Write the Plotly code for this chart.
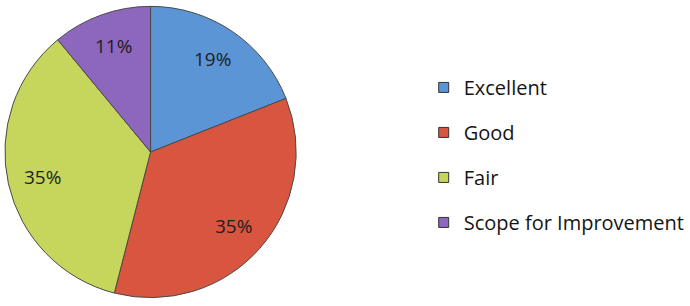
import math
import plotly.graph_objects as go

categories = ["Excellent", "Good", "Fair", "Scope for Improvement"]
values = [19, 35, 35, 11]
colors = ["#5b95d6", "#d8563f", "#c6d55c", "#8d66bd"]

W, H = 690, 306
cx, cy, r = 153, 152, 148  # pie centre / radius in px (layout style)

fig = go.Figure()
fig.add_trace(go.Pie(
    labels=categories, values=values, sort=False, direction="clockwise", rotation=0,
    marker=dict(colors=colors, line=dict(color="#4a4a4a", width=1)),
    textinfo="none", showlegend=False, hoverinfo="label+percent",
    domain=dict(x=[(cx - r) / W, (cx + r) / W], y=[1 - (cy + r) / H, 1 - (cy - r) / H]),
))
for i, (c, col) in enumerate(zip(categories, colors)):
    fig.add_trace(go.Scatter(
        x=[None], y=[None], mode="markers", name=c, legendgroup=str(i),
        marker=dict(symbol="square", size=10, color=col, line=dict(color="#333", width=1)),
    ))

# value labels placed along each slice's mid-angle
total = sum(values)
cum = 0
for v in values:
    mid = (cum + v / 2) / total * 2 * math.pi
    cum += v
    rr = 0.77 * 146
    fig.add_annotation(
        x=(cx + rr * math.sin(mid)) / W, y=1 - (cy - rr * math.cos(mid)) / H,
        xref="paper", yref="paper", xanchor="center", yanchor="middle",
        text=f"{v}%", showarrow=False,
        font=dict(family="Open Sans", size=19, color="#1e1e1e"),
    )

fig.update_layout(
    width=W, height=H, margin=dict(l=0, r=0, t=0, b=0),
    paper_bgcolor="white", plot_bgcolor="white",
    xaxis=dict(visible=False), yaxis=dict(visible=False),
    legend=dict(x=0.624, y=0.778, xanchor="left", yanchor="top",
                font=dict(family="Open Sans", size=20, color="#151515"),
                tracegroupgap=16, itemwidth=30, bgcolor="rgba(0,0,0,0)"),
)
fig.write_html("out.html", config={"displayModeBar": False},
               post_script="document.body.style.margin='0';")
